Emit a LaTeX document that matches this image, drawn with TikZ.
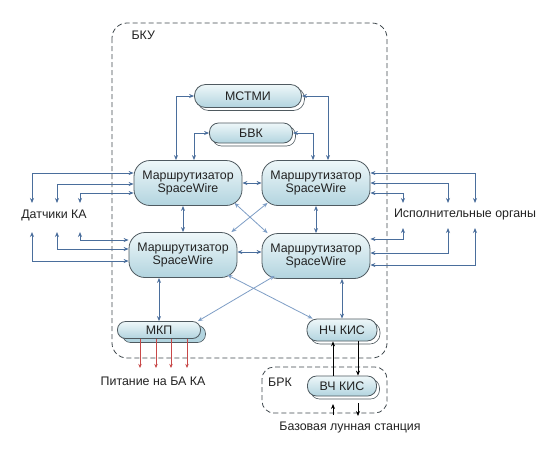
\documentclass[tikz,border=0pt]{standalone}
\usepackage{fontspec}
\setmainfont{Liberation Sans}
\usetikzlibrary{arrows.meta,shadows,calc}
\definecolor{ln}{HTML}{4A6E9C}
\definecolor{lnl}{HTML}{7E9EC6}
\definecolor{bd}{HTML}{4F5A60}
\definecolor{ftop}{HTML}{EEF7F9}
\definecolor{fbot}{HTML}{B2D4DF}
\definecolor{txt}{HTML}{222222}
\definecolor{rd}{HTML}{C84848}
\begin{document}
\begin{tikzpicture}[x=1pt,y=-1pt,
  font=\fontsize{12.4}{13.5}\selectfont, text=txt,
  blk/.style={draw=bd, line width=0.8pt, top color=ftop, bottom color=fbot, align=center, inner sep=0pt},
  pill/.style={blk, rounded corners=9pt, copy shadow={shadow xshift=3pt, shadow yshift=-3pt, fill=white, draw=bd, line width=0.6pt}},
  pillb/.style={blk, rounded corners=8pt, copy shadow={shadow xshift=5pt, shadow yshift=-4pt, fill=fbot, draw=bd, line width=0.6pt}},
  router/.style={blk, rounded corners=16pt, minimum width=108pt, minimum height=45pt},
  link/.style={ln, line width=0.8pt, {Stealth[length=5pt,width=4pt]}-{Stealth[length=5pt,width=4pt]}},
  linkl/.style={lnl, line width=0.8pt, {Stealth[length=5pt,width=4pt]}-{Stealth[length=5pt,width=4pt]}},
  blink/.style={black, line width=0.8pt, -{Stealth[length=5pt,width=4pt]}},
  rlink/.style={rd, line width=0.6pt, -{Stealth[length=4pt,width=3.5pt]}},
  zone/.style={draw=bd!80!black, line width=0.8pt, dash pattern=on 5pt off 3pt}
]
\useasboundingbox (0,0) rectangle (554,448);
\fill[white] (0,0) rectangle (554,448);

% zones
\draw[zone, rounded corners=15pt] (112,23) rectangle (387,358);
\draw[zone, rounded corners=12pt] (262,367) rectangle (387,413);
\node[anchor=west] (lbku) at (128,35) {БКУ};
\node (lbrk) at (280,382) {БРК};

% nodes
\node[pill, minimum width=107pt, minimum height=23pt, rounded corners=11pt] (mstmi) at (248,96) {МСТМИ};
\node[pill, minimum width=83pt, minimum height=20pt] (bvk) at (251,133) {БВК};
\node[router] (r1) at (188,183) {Маршрутизатор\\SpaceWire};
\node[router] (r2) at (316,183) {Маршрутизатор\\SpaceWire};
\node[router] (r3) at (183,255) {Маршрутизатор\\SpaceWire};
\node[router] (r4) at (316,256) {Маршрутизатор\\SpaceWire};
\node[pillb, minimum width=83pt, minimum height=17pt] (mkp) at (159,330) {МКП};
\node[pill, minimum width=70pt, minimum height=22pt, rounded corners=10pt] (nch) at (342,330) {НЧ КИС};
\node[pill, minimum width=69pt, minimum height=20pt] (vch) at (342,386) {ВЧ КИС};

% labels
\node (sens) at (54,215) {Датчики КА};
\node (act) at (465,215) {Исполнительные органы};
\node (pow) at (153,381) {Питание на БА КА};
\node (base) at (350,428) {Базовая лунная станция};

% top links
\draw[link] (mstmi.west) -| ([xshift=-12pt]r1.north);
\draw[link] (mstmi.east) -| ([xshift=12pt]r2.north);
\draw[link] (bvk.west) -| ([xshift=6pt]r1.north);
\draw[link] (bvk.east) -| ([xshift=-3pt]r2.north);

% router links
\draw[link] (r1.east) -- (r2.west);
\draw[link] ([yshift=3pt]r3.east) -- ([yshift=3pt]r3.east -| r4.west);
\draw[link] (r1.south -| r3.north) -- (r3.north);
\draw[link] (r2.south) -- (r4.north);
\draw[linkl] ([xshift=-8pt,yshift=3pt]r1.south east) -- ([xshift=6pt]r4.north west);
\draw[linkl] ([xshift=6pt,yshift=3pt]r2.south west) -- ([xshift=-6pt]r3.north east);

% bottom links
\draw[link] (r3.south -| mkp.north) -- (mkp.north);
\draw[linkl] ([xshift=-10pt,yshift=3pt]r3.south east) -- ([xshift=6pt]nch.north west);
\draw[linkl] ([xshift=13pt,yshift=3pt]r4.south west) -- ([xshift=-3pt]mkp.north east);
\draw[link] (r4.south -| nch.north) -- (nch.north);

% nch <-> vch
\draw[blink] ([xshift=-9pt]vch.north) -- ([xshift=-9pt]nch.south);
\draw[blink] ([xshift=16pt]nch.south) -- ([xshift=16pt]vch.north);
\coordinate (bu0) at (333,415);
\coordinate (bu1) at (333,404);
\coordinate (bd0) at (358,403);
\coordinate (bd1) at (358,416);
\draw[blink] (bu0) -- (bu1);
\draw[blink] (bd0) -- (bd1);

% power
\foreach \dx in {-19,-3,12,28}
  \draw[rlink] ([xshift=\dx pt]mkp.south) -- ++(0,29);

% sensors
\coordinate (sa1) at (32,203);
\coordinate (sa2) at (57,203);
\coordinate (sa3) at (80,203);
\coordinate (sb1) at (80,232);
\coordinate (sb2) at (57,232);
\coordinate (sb3) at (32,232);
\draw[link] (sa1) |- ([yshift=10pt]r1.west);
\draw[link] (sa2) |- ([yshift=-1pt]r1.west);
\draw[link] (sa3) |- ([yshift=-10pt]r1.west);
\draw[link] (sb1) |- ([yshift=15pt]r3.west);
\draw[link] (sb2) |- ([yshift=6pt]r3.west);
\draw[link] (sb3) |- ([yshift=-6pt]r3.west);

% actuators
\coordinate (aa1) at (475,203);
\coordinate (aa2) at (448,203);
\coordinate (aa3) at (403,203);
\coordinate (ab1) at (403,228);
\coordinate (ab2) at (448,228);
\coordinate (ab3) at (475,228);
\draw[link] (aa1) |- ([yshift=10pt]r2.east);
\draw[link] (aa2) |- (r2.east);
\draw[link] (aa3) |- ([yshift=-10pt]r2.east);
\draw[link] (ab1) |- ([yshift=17pt]r4.east);
\draw[link] (ab2) |- ([yshift=3pt]r4.east);
\draw[link] (ab3) |- ([yshift=-9pt]r4.east);
\end{tikzpicture}
\end{document}
